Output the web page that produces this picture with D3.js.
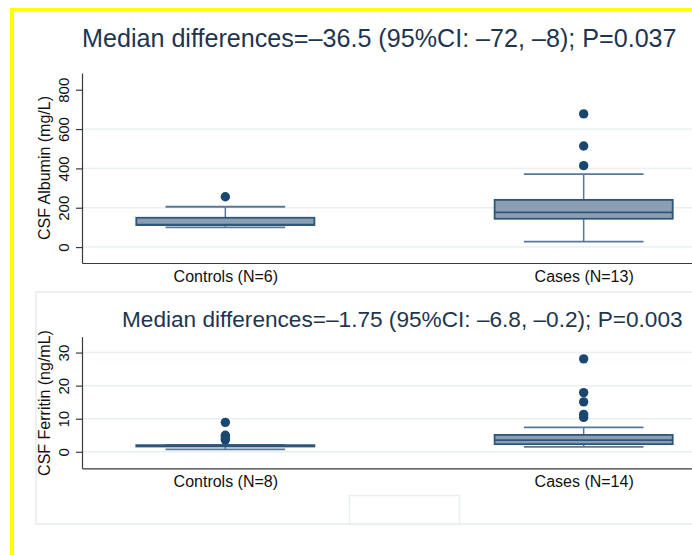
<!DOCTYPE html>
<html lang="en">
<head>
    <meta charset="utf-8">
    <title>CSF Albumin and Ferritin</title>
    <style>
        body { margin: 0; background: #fff; }
        svg { display: block; font-family: "Liberation Sans", Arial, sans-serif; }
    </style>
</head>
<body>
    <script src="https://cdnjs.cloudflare.com/ajax/libs/d3/7.9.0/d3.min.js"></script>
    <script>

    // data
    const groups = ["Controls", "Cases"];

    const albuminN = [6, 13];
    const albuminLow = [100, 28];
    const albuminQ1 = [112, 144];
    const albuminMedian = [114, 176];
    const albuminQ3 = [149, 240];
    const albuminHigh = [205, 371];
    const albuminOutliers = [[256], [414, 514, 677]];
    const albuminTicks = [0, 200, 400, 600, 800];
    const albuminGrid = [0, 200, 400, 600];
    const albuminTitle = "Median differences=\u201336.5 (95%CI: \u201372, \u20138); P=0.037";

    const ferritinN = [8, 14];
    const ferritinLow = [0.7, 1.5];
    const ferritinQ1 = [1.6, 2.3];
    const ferritinMedian = [1.8, 3.5];
    const ferritinQ3 = [2.0, 5.1];
    const ferritinHigh = [2.1, 7.4];
    const ferritinOutliers = [[3.6, 4.3, 5.0, 8.9], [10.4, 11.3, 15.1, 17.9, 28.1]];
    const ferritinTicks = [0, 10, 20, 30];
    const ferritinGrid = [0, 10, 20, 30];
    const ferritinTitle = "Median differences=\u20131.75 (95%CI: \u20136.8, \u20130.2); P=0.003";

    const width = 692, height = 555;
    const navy = "#1a476f";
    const boxFill = "#8b9fb4";
    const boxLine = "#2f5679";
    const whiskerLine = "#587895";

    const svg = d3.select("body").append("svg")
        .attr("width", width)
        .attr("height", height);

    svg.append("rect").attr("width", width).attr("height", height).attr("fill", "#fff");

    // yellow border (top and left)
    svg.append("rect").attr("x", 10).attr("y", 8).attr("width", width - 10).attr("height", 3.5).attr("fill", "#ffff00");
    svg.append("rect").attr("x", 10).attr("y", 8).attr("width", 4).attr("height", height - 8).attr("fill", "#ffff00");

    // frame of lower panel + empty legend box
    svg.append("rect")
        .attr("x", 36).attr("y", 292).attr("width", 700).attr("height", 232)
        .attr("fill", "none").attr("stroke", "#e6ecef").attr("stroke-width", 1.5);
    svg.append("rect")
        .attr("x", 349.5).attr("y", 495.5).attr("width", 110).attr("height", 29)
        .attr("fill", "none").attr("stroke", "#e9eef1").attr("stroke-width", 1.5);

    function fitTitle(sel, target) {
        const len = sel.node().getComputedTextLength();
        const fs = parseFloat(sel.attr("font-size"));
        sel.attr("font-size", fs * target / len);
    }

    function panel(cfg) {
        const x = d3.scalePoint().domain(groups).range([82, 727]).padding(0.4);
        const y = d3.scaleLinear().domain(cfg.domain).range([cfg.bottom, cfg.top]);
        const step = x.step();
        const boxW = step * 0.497;
        const capW = step * 0.334;

        const g = svg.append("g");

        // title
        const t = g.append("text")
            .attr("x", cfg.titleX)
            .attr("y", cfg.titleY)
            .attr("font-size", 24)
            .attr("fill", "#1e3550")
            .text(cfg.title);
        fitTitle(t, cfg.titleW);

        // grid
        g.selectAll(".grid")
            .data(cfg.grid)
            .join("line")
            .attr("x1", 83).attr("x2", width)
            .attr("y1", d => y(d)).attr("y2", d => y(d))
            .attr("stroke", "#eaf0f2").attr("stroke-width", 1.5);

        // y axis
        const ya = g.append("g")
            .attr("transform", "translate(82,0)")
            .call(d3.axisLeft(y).tickValues(cfg.ticks).tickSize(6).tickSizeOuter(0));
        ya.select(".domain").attr("stroke", "#3a3a3a").attr("stroke-width", 1.2);
        ya.selectAll(".tick line").attr("stroke", "#3a3a3a").attr("stroke-width", 1.2);
        ya.selectAll(".tick text")
            .attr("transform", "rotate(-90)")
            .attr("x", 0).attr("y", -13).attr("dy", 0)
            .attr("text-anchor", "middle")
            .attr("font-size", 15)
            .attr("font-family", "Liberation Sans, Arial, sans-serif")
            .attr("fill", "#111");

        // y axis title
        g.append("text")
            .attr("transform", `translate(50,${cfg.ytitleY}) rotate(-90)`)
            .attr("text-anchor", "middle")
            .attr("font-size", 16)
            .attr("fill", "#111")
            .text(cfg.ytitle);

        // x axis
        const xa = g.append("g")
            .attr("transform", `translate(0,${cfg.bottom})`)
            .call(d3.axisBottom(x).tickSize(0).tickFormat((d, i) => `${d} (N=${cfg.n[i]})`));
        xa.select(".domain").attr("stroke", "#3a3a3a").attr("stroke-width", 1.2);
        xa.selectAll(".tick text")
            .attr("y", 18.5).attr("dy", 0)
            .attr("font-size", 16)
            .attr("font-family", "Liberation Sans, Arial, sans-serif")
            .attr("fill", "#111");

        // boxes
        const data = groups.map((d, i) => ({
            key: d, lo: cfg.low[i], q1: cfg.q1[i], med: cfg.med[i],
            q3: cfg.q3[i], hi: cfg.high[i], out: cfg.out[i]
        }));

        const b = g.selectAll(".box").data(data).join("g");

        b.append("line")
            .attr("x1", d => x(d.key)).attr("x2", d => x(d.key))
            .attr("y1", d => y(d.hi)).attr("y2", d => y(d.lo))
            .attr("stroke", whiskerLine).attr("stroke-width", 1.5);
        b.selectAll(".cap")
            .data(d => [d.lo, d.hi].map(v => ({ key: d.key, v })))
            .join("line")
            .attr("x1", d => x(d.key) - capW / 2).attr("x2", d => x(d.key) + capW / 2)
            .attr("y1", d => y(d.v)).attr("y2", d => y(d.v))
            .attr("stroke", whiskerLine).attr("stroke-width", 1.8);
        b.append("rect")
            .attr("x", d => x(d.key) - boxW / 2)
            .attr("width", boxW)
            .attr("y", d => y(d.q3))
            .attr("height", d => Math.max(0.5, y(d.q1) - y(d.q3)))
            .attr("fill", boxFill)
            .attr("stroke", boxLine).attr("stroke-width", 1.8);
        b.append("line")
            .attr("x1", d => x(d.key) - boxW / 2).attr("x2", d => x(d.key) + boxW / 2)
            .attr("y1", d => y(d.med)).attr("y2", d => y(d.med))
            .attr("stroke", boxLine).attr("stroke-width", 1.8);
        b.selectAll(".out")
            .data(d => d.out.map(v => ({ key: d.key, v })))
            .join("circle")
            .attr("cx", d => x(d.key))
            .attr("cy", d => y(d.v))
            .attr("r", 4.7)
            .attr("fill", navy);
    }

    panel({
        title: albuminTitle, titleX: 82, titleY: 47, titleW: 595,
        domain: [-81, 885], top: 73, bottom: 263,
        ticks: albuminTicks, grid: albuminGrid,
        ytitle: "CSF Albumin (mg/L)", ytitleY: 168,
        n: albuminN, low: albuminLow, q1: albuminQ1, med: albuminMedian,
        q3: albuminQ3, high: albuminHigh, out: albuminOutliers
    });

    panel({
        title: ferritinTitle, titleX: 122, titleY: 327, titleW: 561,
        domain: [-5, 34.8], top: 336.7, bottom: 468.3,
        ticks: ferritinTicks, grid: ferritinGrid,
        ytitle: "CSF Ferritin (ng/mL)", ytitleY: 403,
        n: ferritinN, low: ferritinLow, q1: ferritinQ1, med: ferritinMedian,
        q3: ferritinQ3, high: ferritinHigh, out: ferritinOutliers
    });

    </script>
</body>
</html>
